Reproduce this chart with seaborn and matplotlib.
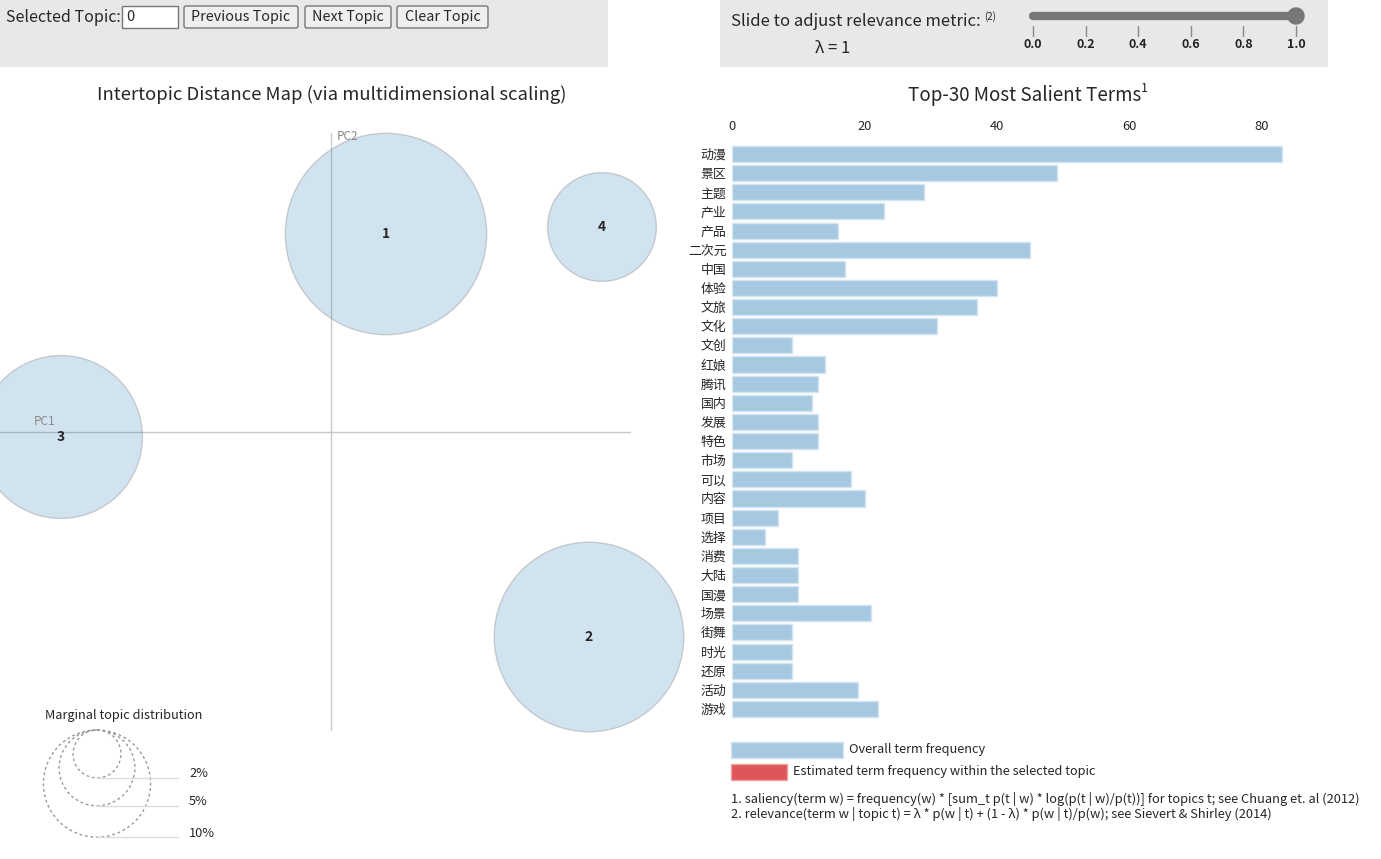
import numpy as np
import matplotlib
matplotlib.use("Agg")
import matplotlib.pyplot as plt
from matplotlib.patches import Rectangle, FancyBboxPatch, Circle
import seaborn as sns

# ---------------------------------------------------------------------------
# data
# ---------------------------------------------------------------------------
topic_ids = ["1", "2", "3", "4"]
topic_pc1 = [0.055, 0.258, -0.270, 0.271]
topic_pc2 = [0.198, -0.205, -0.005, 0.205]
topic_pct = [35.3, 31.3, 23.1, 10.3]          # marginal topic distribution (%)

legend_pct = [2, 5, 10]

terms = ["动漫", "景区", "主题", "产业", "产品", "二次元", "中国", "体验", "文旅", "文化",
         "文创", "红娘", "腾讯", "国内", "发展", "特色", "市场", "可以", "内容", "项目",
         "选择", "消费", "大陆", "国漫", "场景", "街舞", "时光", "还原", "活动", "游戏"]
term_freq = [83, 49, 29, 23, 16, 45, 17, 40, 37, 31,
             9, 14, 13, 12, 13, 13, 9, 18, 20, 7,
             5, 10, 10, 10, 21, 9, 9, 9, 19, 22]
freq_ticks = [0, 20, 40, 60, 80]
lambda_ticks = [0.0, 0.2, 0.4, 0.6, 0.8, 1.0]

# ---------------------------------------------------------------------------
# style
# ---------------------------------------------------------------------------
sns.set_theme(style="white")
plt.rcParams["font.family"] = ["Noto Sans CJK SC", "DejaVu Sans"]

W, H = 1381, 859
fig = plt.figure(figsize=(W / 100, H / 100), dpi=100)


def px_rect(x0, y0, x1, y1):
    """pixel box (top-left origin) -> figure fraction rect"""
    return [x0 / W, 1 - y1 / H, (x1 - x0) / W, (y1 - y0) / H]


# overlay axes in pixel units for the widgets
ui = fig.add_axes([0, 0, 1, 1], zorder=0)
ui.set_xlim(0, W)
ui.set_ylim(H, 0)
ui.axis("off")

# top control panels
ui.add_patch(Rectangle((0, 0), 608, 67, color="#e8e8e8", lw=0))
ui.add_patch(Rectangle((720, 0), 608, 67, color="#e8e8e8", lw=0))

ui.text(6, 17, "Selected Topic:", fontsize=11.5, va="center", ha="left")
ui.add_patch(Rectangle((122, 6), 56, 22, facecolor="white", edgecolor="#767676", lw=1))
ui.text(126, 17, "0", fontsize=10.5, va="center", ha="left")
for label, x0, x1 in [("Previous Topic", 184, 298), ("Next Topic", 305, 391),
                      ("Clear Topic", 397, 488)]:
    ui.add_patch(FancyBboxPatch((x0, 6), x1 - x0, 22, boxstyle="round,pad=0,rounding_size=2",
                                facecolor="#efefef", edgecolor="#767676", lw=1))
    ui.text((x0 + x1) / 2, 17, label, fontsize=10.3, va="center", ha="center")

ui.text(731, 21, "Slide to adjust relevance metric:", fontsize=12, va="center", ha="left")
ui.text(984, 17, "(2)", fontsize=7, va="center", ha="left")
ui.text(815, 48, "λ = 1", fontsize=12, va="center", ha="left")

sl0, sl1 = 1033, 1296
ui.plot([sl0, sl1], [16, 16], color="#777777", lw=6, solid_capstyle="round")
ui.add_patch(Circle((sl1, 16), 8, color="#777777"))
for v in lambda_ticks:
    xv = sl0 + v * (sl1 - sl0)
    ui.plot([xv, xv], [26, 36], color="#888888", lw=1)
    ui.text(xv, 45, f"{v:.1f}", fontsize=9, fontweight="bold", ha="center", va="center",
            color="#222222")

# titles
ui.text(332, 95, "Intertopic Distance Map (via multidimensional scaling)", fontsize=13.3,
        ha="center", va="center")
ui.text(1025, 95, "Top-30 Most Salient Terms", fontsize=13.5, ha="center", va="center")
ui.text(1141, 88, "1", fontsize=9, ha="left", va="center")

# ---------------------------------------------------------------------------
# intertopic distance map
# ---------------------------------------------------------------------------
mx0, my0, mx1, my1 = 0, 115, 665, 740
ox, oy, scale = 331, 432, 1000.0  # origin of PC axes in px, px per unit
ax = fig.add_axes(px_rect(mx0, my0, mx1, my1), zorder=1)
ax.patch.set_alpha(0)
ax.set_xlim((mx0 - ox) / scale, (mx1 - ox) / scale)
ax.set_ylim((oy - my1) / scale, (oy - my0) / scale)
ax.axis("off")

ax.plot([(0 - ox) / scale, 0.299], [0, 0], color="#c8c8c8", lw=1, zorder=1)
ax.plot([0, 0], [-0.298, 0.299], color="#c8c8c8", lw=1, zorder=1)
ax.text((34 - ox) / scale, 0.004, "PC1", color="#888888", fontsize=8.5, va="bottom")
ax.text(0.006, 0.295, "PC2", color="#888888", fontsize=8.5, va="center")

rscale = 16.95  # px radius for sqrt(1%)
sizes = [(2 * rscale * np.sqrt(p) * 0.72) ** 2 for p in topic_pct]
sns.scatterplot(x=topic_pc1, y=topic_pc2, s=sizes, color="#1f77b4", ax=ax,
                linewidth=1, legend=False, zorder=2, clip_on=False)
pts = ax.collections[-1]
pts.set_alpha(None)
pts.set_facecolor((0.122, 0.467, 0.706, 0.2))
pts.set_edgecolor((0.45, 0.45, 0.45, 0.3))
pts.set_clip_on(False)
for tid, xv, yv in zip(topic_ids, topic_pc1, topic_pc2):
    ax.text(xv, yv, tid, fontsize=10, fontweight="bold", ha="center", va="center", zorder=3)

# marginal distribution legend
ui.text(45, 715, "Marginal topic distribution", fontsize=9.2, ha="left", va="center")
for p in legend_pct:
    r = rscale * np.sqrt(p)
    ui.add_patch(Circle((97, 730 + r), r, fill=False, edgecolor="#999999", lw=1,
                        linestyle=(0, (2, 2))))
    yb = 730 + 2 * r
    ui.plot([97, 178], [yb, yb], color="#dddddd", lw=1)
    ui.text(189, yb - 4, f"{p}%", fontsize=9.2, ha="left", va="center")

# ---------------------------------------------------------------------------
# top-30 terms bar chart
# ---------------------------------------------------------------------------
bx0, bx1 = 732, 1292
row_h = (709 - 154) / 29
by0, by1 = 154 - row_h / 2, 709 + row_h / 2
bax = fig.add_axes(px_rect(bx0, by0, bx1, by1), zorder=1)
bax.patch.set_alpha(0)
sns.barplot(x=term_freq, y=terms, orient="h", color="#a6c8e1", saturation=1,
            width=0.84, edgecolor="#d4e5f1", linewidth=1, ax=bax)
bax.set_xlim(0, (bx1 - bx0) / 6.625)
bax.set_ylim(len(terms) - 0.5, -0.5)
bax.xaxis.tick_top()
bax.set_xticks(freq_ticks)
bax.tick_params(axis="x", length=0, pad=8.5, labelsize=9.3)
bax.tick_params(axis="y", length=0, pad=4, labelsize=9.3)
bax.set_xlabel("")
bax.set_ylabel("")
sns.despine(ax=bax, left=True, bottom=True, top=True, right=True)

# legend of bar colours + footnotes
ui.add_patch(Rectangle((731, 742), 112, 16, facecolor="#a6c8e1", edgecolor="#d4e5f1", lw=1))
ui.text(849, 750, "Overall term frequency", fontsize=9.2, ha="left", va="center")
ui.add_patch(Rectangle((731, 764), 56, 16, facecolor="#e05558", edgecolor="#eca0a2", lw=1))
ui.text(793, 772, "Estimated term frequency within the selected topic", fontsize=9.2,
        ha="left", va="center")
ui.text(731, 799, "1. saliency(term w) = frequency(w) * [sum_t p(t | w) * log(p(t | w)/p(t))] "
        "for topics t; see Chuang et. al (2012)", fontsize=9.27, ha="left", va="center")
ui.text(731, 814, "2. relevance(term w | topic t) = λ * p(w | t) + (1 - λ) * p(w | t)/p(w); "
        "see Sievert & Shirley (2014)", fontsize=9.27, ha="left", va="center")

fig.savefig("out.png", dpi=100)
